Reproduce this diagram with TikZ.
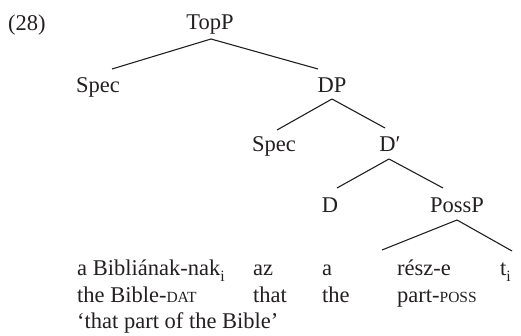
\documentclass[tikz,border=0pt]{standalone}
\usepackage{fontspec}
\setmainfont{Liberation Serif}
\definecolor{ink}{HTML}{231F20}
% fake small capitals for the gloss labels
\newcommand{\glosscap}[1]{{\fontsize{15.5}{18}\selectfont #1}}
\newcommand{\idx}[1]{\raisebox{-0.12em}{\textsubscript{#1}}}
\tikzset{
  lab/.style={anchor=base, inner sep=0pt, text=ink, font=\fontsize{22.5}{27}\selectfont},
  word/.style={lab, anchor=base west},
  branch/.style={draw=ink, line width=1.1pt}
}
\begin{document}
\begin{tikzpicture}[x=1pt,y=1pt]
\useasboundingbox (0,0) rectangle (521,336);

% example number
\node[word] (exnum) at (8,305) {(28)};

% tree nodes
\node[lab] (topp)  at (210,306) {TopP};
\node[lab] (specA) at (98,243)  {Spec};
\node[lab] (dp)    at (332,243) {DP};
\node[lab] (specB) at (274,184) {Spec};
\node[lab] (dbar)  at (390,184) {D′};
\node[lab] (d)     at (330,123) {D};
\node[lab] (possp) at (457,123) {PossP};

% words, glosses and translation
\node[word] (w1) at (77,60)  {a Bibliának-nak\idx{i}};
\node[word] (w2) at (253,60) {az};
\node[word] (w3) at (322,60) {a};
\node[word] (w4) at (397,60) {rész-e};
\node[word] (w5) at (500,60) {t\idx{i}};

\node[word] (g1) at (77,33)  {the Bible-\glosscap{DAT}};
\node[word] (g2) at (253,33) {that};
\node[word] (g3) at (322,33) {the};
\node[word] (g4) at (397,33) {part-\glosscap{POSS}};

\node[word] (tr) at (77,7) {‘that part of the Bible’};

% branches
\draw[branch] ([shift={(1,-9)}]topp.base) -- ([shift={(14,24)}]specA.base);
\draw[branch] ([shift={(1,-9)}]topp.base) -- ([shift={(-14,24)}]dp.base);
\draw[branch] ([shift={(0,-6)}]dp.base) -- ([shift={(3,22)}]specB.base);
\draw[branch] ([shift={(0,-6)}]dp.base) -- ([shift={(-5,24)}]dbar.base);
\draw[branch] ([shift={(-1,-7)}]dbar.base) -- ([shift={(7,25)}]d.base);
\draw[branch] ([shift={(-1,-7)}]dbar.base) -- ([shift={(-14,25)}]possp.base);
\draw[branch] ([shift={(0,-7)}]possp.base) -- ([shift={(-15,26)}]w4.base west);
\draw[branch] ([shift={(0,-7)}]possp.base) -- ([shift={(12,25)}]w5.base west);
\end{tikzpicture}
\end{document}
